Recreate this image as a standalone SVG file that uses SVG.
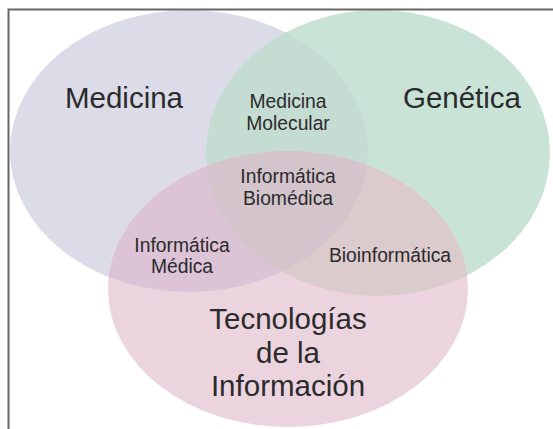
<svg xmlns="http://www.w3.org/2000/svg" width="553" height="429" viewBox="0 0 553 429">
<style>
text{font-family:"Liberation Sans",Arial,sans-serif;fill:#2b2a2c;text-anchor:middle}
.big{font-size:29.5px}
.small{font-size:19.3px}
</style>
<defs>
<ellipse id="eM" cx="189" cy="151" rx="179" ry="141"/>
<ellipse id="eG" cx="378" cy="153" rx="172" ry="143"/>
<ellipse id="eT" cx="288" cy="289" rx="180" ry="138"/>
<clipPath id="cM"><use href="#eM"/></clipPath>
<clipPath id="cG"><use href="#eG"/></clipPath>
<clipPath id="cT"><use href="#eT"/></clipPath>
</defs>
<rect width="553" height="429" fill="#ffffff"/>
<g id="medicina">
<use href="#eM" fill="#dcdbe8"/>
</g>
<g id="genetica">
<use href="#eG" fill="#c9e4d6"/>
</g>
<g id="tecnologias">
<use href="#eT" fill="#ecd4de"/>
</g>
<g id="overlaps">
<g clip-path="url(#cM)"><use href="#eG" fill="#c4dcd2"/></g>
<g clip-path="url(#cM)"><use href="#eT" fill="#dcc4d6"/></g>
<g clip-path="url(#cG)"><use href="#eT" fill="#dbcbcd"/></g>
<g clip-path="url(#cM)"><g clip-path="url(#cG)"><use href="#eT" fill="#d3c5cb"/></g></g>
</g>
<g id="labels">
<text class="big" x="124" y="108">Medicina</text>
<text class="big" x="462" y="108">Genética</text>
<text class="small" x="288" y="108">Medicina</text>
<text class="small" x="288" y="130">Molecular</text>
<text class="small" x="288" y="183">Informática</text>
<text class="small" x="288" y="205">Biomédica</text>
<text class="small" x="182" y="252">Informática</text>
<text class="small" x="182" y="273">Médica</text>
<text class="small" x="390" y="262">Bioinformática</text>
<text class="big" x="288" y="329">Tecnologías</text>
<text class="big" x="288" y="363">de la</text>
<text class="big" x="288" y="396">Información</text>
</g>
<path d="M8.5 429 V9.5 H553" fill="none" stroke="#676767" stroke-width="2"/>
</svg>
